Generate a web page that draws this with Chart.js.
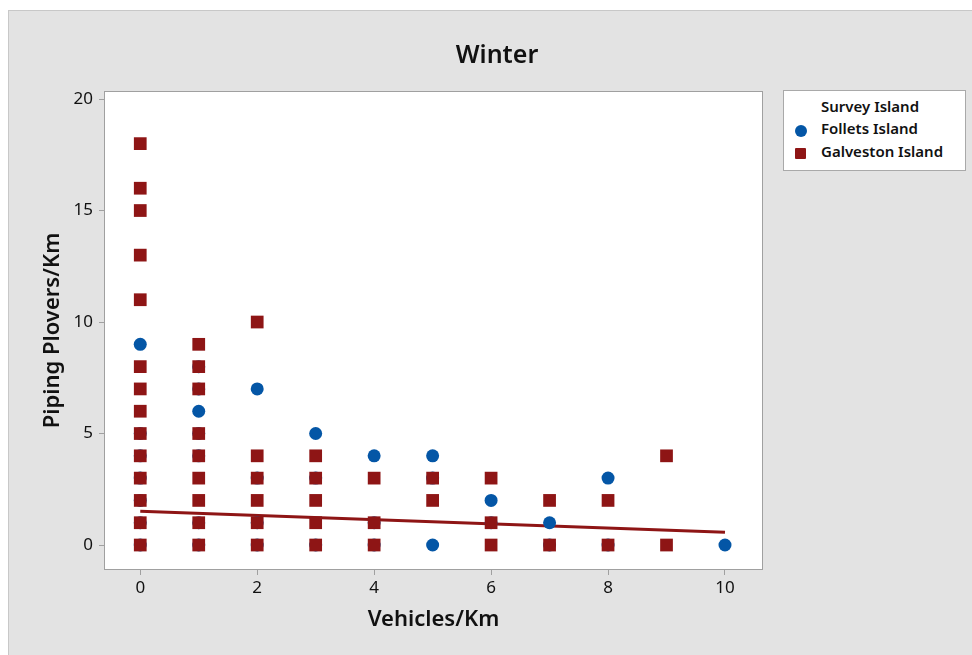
<!DOCTYPE html>
<html>
<head>
<meta charset="utf-8">
<script src="https://cdn.jsdelivr.net/npm/chart.js@4/dist/chart.umd.min.js"></script>
<style>
  html, body { margin: 0; padding: 0; background: #fff; }
  #wrap { position: relative; width: 972px; height: 655px; overflow: hidden; }
  #frame {
    position: absolute; left: 8px; top: 10px; right: 0; bottom: 0;
    background: #e3e3e3; border-left: 1px solid #c8c8c8; border-top: 1px solid #c8c8c8;
  }
  #chart { position: absolute; left: 0; top: 0; }
  #title {
    position: absolute; left: 397px; width: 200px; top: 36px; text-align: center;
    font-family: "Noto Sans", "Open Sans", sans-serif; font-size: 25px; font-weight: 600;
    line-height: 34px; color: #111;
  }
  #legend {
    position: absolute; left: 783px; top: 90px; width: 181px; height: 79px;
    background: #fff; border: 1px solid #a9a9a9;
    font-family: "Noto Sans", "Open Sans", sans-serif; font-size: 15px; font-weight: 600; color: #111;
  }
  #legend .row { position: absolute; left: 37px; white-space: nowrap; line-height: 20px; }
  #legend .mark { position: absolute; }
</style>
</head>
<body>
<div id="wrap">
  <div id="frame"></div>
  <canvas id="chart" width="972" height="655"></canvas>
  <div id="title">Winter</div>
  <div id="legend"></div>
</div>
<script>
/* Winter: piping plovers vs vehicles, by survey island */

const follColor = "#0456a6";
const galvColor = "#8e1515";

// Follets Island points
const folletsX = [0, 0, 0, 0, 0, 0, 0,  1, 1, 1, 1, 1, 1, 1,  2, 2, 2, 2,  3, 3, 3,  4, 4, 4,  5, 5, 5,  6, 6,  7, 7,  8, 8,  10];
const folletsY = [9, 5, 4, 3, 2, 1, 0,  8, 7, 6, 5, 4, 1, 0,  7, 3, 1, 0,  5, 3, 0,  4, 1, 0,  4, 3, 0,  2, 1,  1, 0,  3, 0,  0];

// Galveston Island points
const galvestonX = [0, 0, 0, 0, 0, 0, 0, 0, 0, 0, 0, 0, 0, 0,  1, 1, 1, 1, 1, 1, 1, 1, 1,  2, 2, 2, 2, 2, 2,  3, 3, 3, 3, 3,  4, 4, 4,  5, 5,  6, 6, 6,  7, 7,  8, 8,  9, 9];
const galvestonY = [18, 16, 15, 13, 11, 8, 7, 6, 5, 4, 3, 2, 1, 0,  9, 8, 7, 5, 4, 3, 2, 1, 0,  10, 4, 3, 2, 1, 0,  4, 3, 2, 1, 0,  3, 1, 0,  3, 2,  3, 1, 0,  2, 0,  2, 0,  4, 0];

// fitted line end points
const fitX = [0, 10];
const fitY = [1.52, 0.57];

const xTicks = [0, 2, 4, 6, 8, 10];
const yTicks = [0, 5, 10, 15, 20];

function toPoints(xs, ys) {
  return xs.map((x, i) => ({ x: x, y: ys[i] }));
}

const font = "'Noto Sans', 'Open Sans', sans-serif";

const plotBox = {
  id: "plotBox",
  beforeDatasetsDraw(chart) {
    const { ctx, chartArea: a } = chart;
    ctx.save();
    ctx.fillStyle = "#fff";
    ctx.fillRect(a.left, a.top, a.right - a.left, a.bottom - a.top);
    ctx.strokeStyle = "#a0a0a0";
    ctx.lineWidth = 1;
    ctx.strokeRect(a.left + 0.5, a.top + 0.5, a.right - a.left - 1, a.bottom - a.top - 1);
    ctx.restore();
  },
};

new Chart(document.getElementById("chart"), {
  type: "scatter",
  data: {
    datasets: [
      {
        label: "Follets Island",
        data: toPoints(folletsX, folletsY),
        pointStyle: "circle",
        pointRadius: 6.5,
        backgroundColor: follColor,
        borderWidth: 0,
        order: 2,
      },
      {
        label: "Galveston Island",
        data: toPoints(galvestonX, galvestonY),
        pointStyle: "rect",
        pointRadius: 9,
        backgroundColor: galvColor,
        borderWidth: 0,
        order: 1,
      },
      {
        type: "line",
        label: "Fit",
        data: toPoints(fitX, fitY),
        borderColor: galvColor,
        borderWidth: 3,
        pointRadius: 0,
        fill: false,
        order: 3,
      },
    ],
  },
  options: {
    responsive: false,
    animation: false,
    events: [],
    layout: { padding: { left: 0, right: 209, top: 91, bottom: 0 } },
    plugins: {
      legend: { display: false },
      tooltip: { enabled: false },
      title: { display: false },
    },
    scales: {
      x: {
        type: "linear",
        min: -0.62,
        max: 10.65,
        afterFit(scale) { scale.height = 85; },
        afterBuildTicks(scale) { scale.ticks = xTicks.map((v) => ({ value: v })); },
        ticks: { color: "#111", padding: 3, font: { family: font, size: 17 } },
        grid: { drawOnChartArea: false, drawTicks: true, tickLength: 5, color: "#a0a0a0" },
        border: { display: false },
        title: {
          display: true,
          text: "Vehicles/Km",
          color: "#111",
          font: { family: font, size: 22, weight: "600", lineHeight: 1.2 },
          padding: { top: 0, bottom: 22 },
        },
      },
      y: {
        type: "linear",
        min: -1.12,
        max: 20.36,
        afterFit(scale) { scale.width = 104; },
        afterBuildTicks(scale) { scale.ticks = yTicks.map((v) => ({ value: v })); },
        ticks: { color: "#111", padding: 6, font: { family: font, size: 17 } },
        grid: { drawOnChartArea: false, drawTicks: true, tickLength: 5, color: "#a0a0a0" },
        border: { display: false },
        title: {
          display: true,
          text: "Piping Plovers/Km",
          color: "#111",
          font: { family: font, size: 22, weight: "600", lineHeight: 1.2 },
          padding: { top: 40, bottom: 0 },
        },
      },
    },
  },
  plugins: [plotBox],
});

// legend box, matching the original's boxed key
const legend = document.getElementById("legend");
legend.innerHTML = `
  <div class="row" style="top:5px">Survey Island</div>
  <span class="mark" style="left:11px;top:34px;width:12px;height:12px;border-radius:50%;background:${follColor}"></span>
  <div class="row" style="top:27px">Follets Island</div>
  <span class="mark" style="left:11px;top:57px;width:11px;height:11px;border-radius:1px;background:${galvColor}"></span>
  <div class="row" style="top:50px">Galveston Island</div>
`;
</script>
</body>
</html>
